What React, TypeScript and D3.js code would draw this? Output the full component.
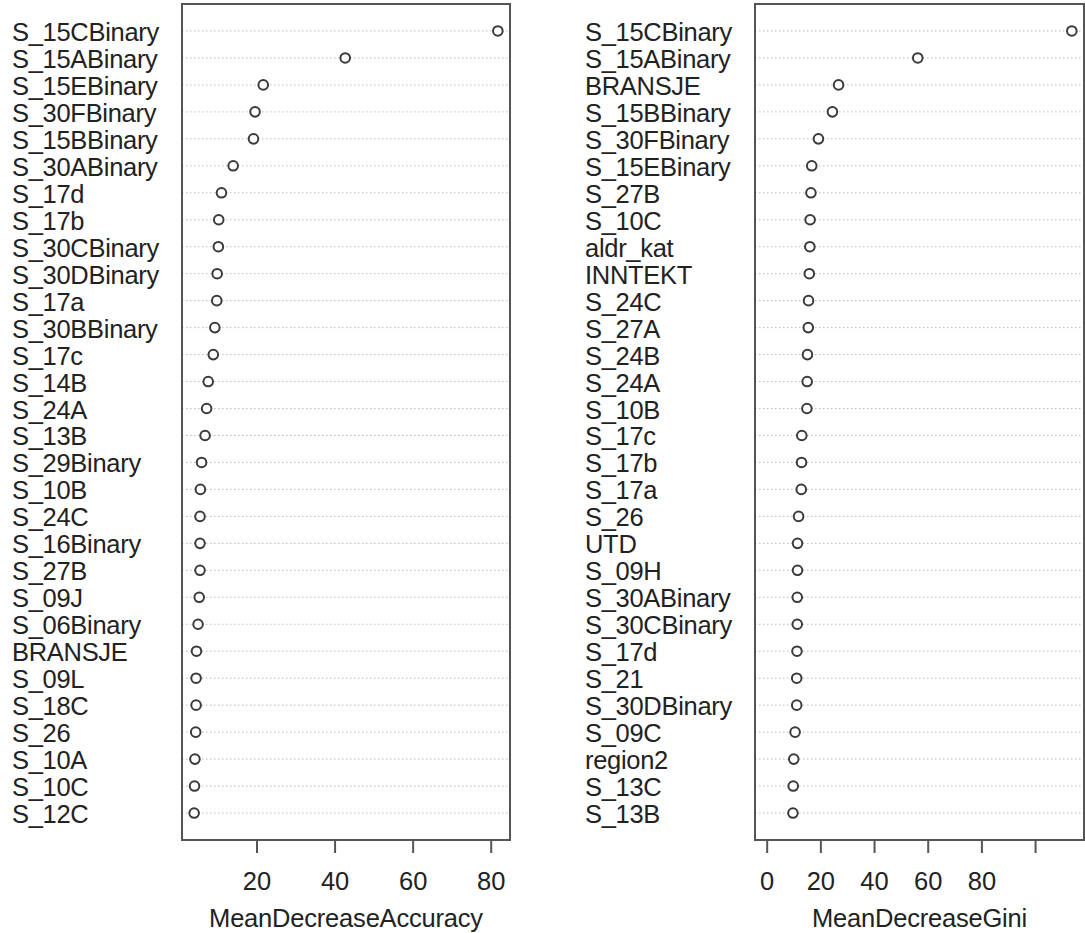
import React from 'react';
import { scaleLinear } from 'd3';

// variable importance, sorted top to bottom
const accNames = [
  'S_15CBinary', 'S_15ABinary', 'S_15EBinary', 'S_30FBinary', 'S_15BBinary', 'S_30ABinary',
  'S_17d', 'S_17b', 'S_30CBinary', 'S_30DBinary', 'S_17a', 'S_30BBinary', 'S_17c', 'S_14B',
  'S_24A', 'S_13B', 'S_29Binary', 'S_10B', 'S_24C', 'S_16Binary', 'S_27B', 'S_09J',
  'S_06Binary', 'BRANSJE', 'S_09L', 'S_18C', 'S_26', 'S_10A', 'S_10C', 'S_12C',
];
const accValues = [
  81.7, 42.6, 21.6, 19.5, 19.1, 13.9, 10.9, 10.2, 10.1, 9.8, 9.7, 9.2, 8.8, 7.5,
  7.1, 6.7, 5.8, 5.5, 5.4, 5.4, 5.4, 5.2, 4.9, 4.5, 4.4, 4.4, 4.3, 4.1, 4.0, 3.9,
];

const giniNames = [
  'S_15CBinary', 'S_15ABinary', 'BRANSJE', 'S_15BBinary', 'S_30FBinary', 'S_15EBinary',
  'S_27B', 'S_10C', 'aldr_kat', 'INNTEKT', 'S_24C', 'S_27A', 'S_24B', 'S_24A', 'S_10B',
  'S_17c', 'S_17b', 'S_17a', 'S_26', 'UTD', 'S_09H', 'S_30ABinary', 'S_30CBinary', 'S_17d',
  'S_21', 'S_30DBinary', 'S_09C', 'region2', 'S_13C', 'S_13B',
];
const giniValues = [
  113.5, 56.1, 26.6, 24.3, 19.1, 16.6, 16.3, 16.0, 15.9, 15.7, 15.4, 15.3, 15.0, 14.9, 14.8,
  12.9, 12.8, 12.7, 11.7, 11.3, 11.3, 11.2, 11.2, 11.1, 11.0, 11.0, 10.4, 9.9, 9.7, 9.6,
];

const accTicks = [20, 40, 60, 80];
const giniTicks = [0, 20, 40, 60, 80, 100];
const giniTickLabels = [0, 20, 40, 60, 80];

const font = 'Liberation Sans, Arial, sans-serif';
const textCol = '#222';
const top = 4;
const bottom = 840;

type PanelProps = {
  names: string[];
  values: number[];
  fromZero: boolean;
  left: number;
  right: number;
  labelX: number;
  ticks: number[];
  tickLabels: number[];
  title: string;
};

const Panel = ({ names, values, fromZero, left, right, labelX, ticks, tickLabels, title }: PanelProps) => {
  const n = values.length;
  const lo = fromZero ? 0 : Math.min(...values);
  const hi = Math.max(...values);
  const pad = (hi - lo) * 0.04;
  const x = scaleLinear().domain([lo - pad, hi + pad]).range([left, right]);
  const y = scaleLinear().domain([0, n + 1]).range([top, bottom]);

  return (
    <g>
      {/* dotted guide lines */}
      {values.map((v, i) => (
        <line key={'g' + i} x1={left} x2={right} y1={y(i + 1)} y2={y(i + 1)}
          stroke="#bdbdbd" strokeWidth={1} strokeDasharray="1.5,2.5" />
      ))}
      {values.map((v, i) => (
        <circle key={'p' + i} cx={x(v)} cy={y(i + 1)} r={4.8}
          fill="#fff" stroke="#3a3a3a" strokeWidth={2} />
      ))}
      {names.map((nm, i) => (
        <text key={'l' + i} x={labelX} y={y(i + 1) + 10} fontSize={25.5} letterSpacing={-0.3}
          fontFamily={font} fill={textCol}>{nm}</text>
      ))}
      <rect x={left} y={top} width={right - left} height={bottom - top}
        fill="none" stroke="#555" strokeWidth={2} />
      {ticks.map(t => (
        <line key={'t' + t} x1={x(t)} x2={x(t)} y1={bottom} y2={bottom + 13}
          stroke="#555" strokeWidth={2} />
      ))}
      {tickLabels.map(t => (
        <text key={'tl' + t} x={x(t)} y={890} textAnchor="middle" fontSize={25.5}
          fontFamily={font} fill={textCol}>{t}</text>
      ))}
      <text x={(left + right) / 2} y={927} textAnchor="middle" fontSize={25.5} letterSpacing={-0.2}
        fontFamily={font} fill={textCol}>{title}</text>
    </g>
  );
};

export default function App() {
  return (
    <svg width={1085} height={933} style={{ position: 'absolute', left: 0, top: 0, background: '#fff' }}>
      <rect width={1085} height={933} fill="#fff" />
      <Panel names={accNames} values={accValues} fromZero={false} left={182} right={510}
        labelX={12} ticks={accTicks} tickLabels={accTicks} title="MeanDecreaseAccuracy" />
      <Panel names={giniNames} values={giniValues} fromZero={true} left={755} right={1084}
        labelX={585} ticks={giniTicks} tickLabels={giniTickLabels} title="MeanDecreaseGini" />
    </svg>
  );
}
